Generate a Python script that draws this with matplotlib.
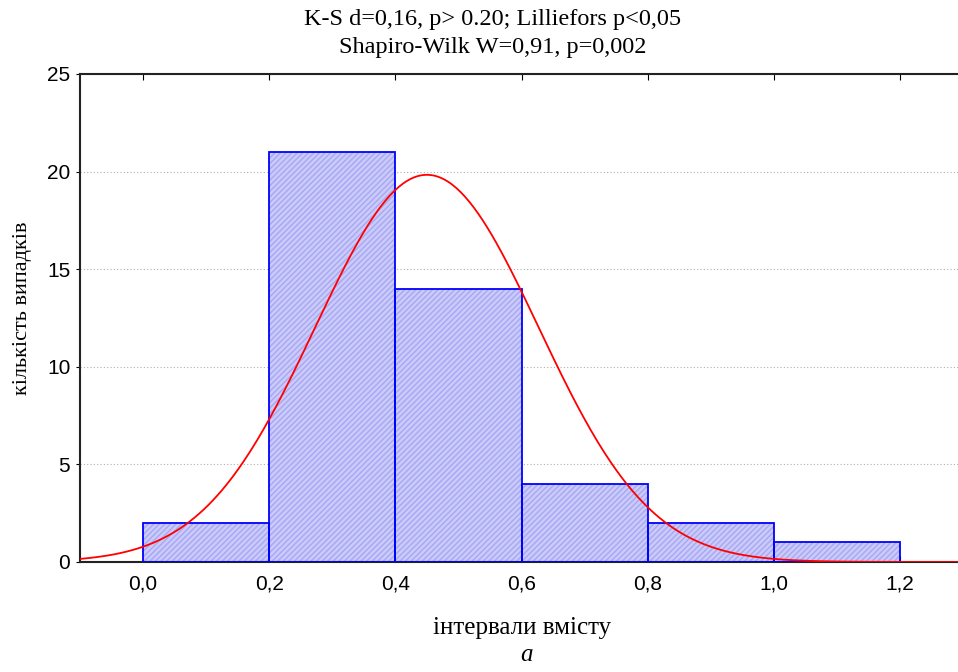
import numpy as np
import matplotlib.pyplot as plt

# histogram data
bin_left = [0.0, 0.2, 0.4, 0.6, 0.8, 1.0]
counts = [2, 21, 14, 4, 2, 1]
bin_width = 0.2

# fitted normal curve parameters
mu = 0.45
sigma = 0.177
n_total = sum(counts)

title_1 = 'K-S d=0,16, p> 0.20; Lilliefors p<0,05'
title_2 = 'Shapiro-Wilk W=0,91, p=0,002'
xticks = [0.0, 0.2, 0.4, 0.6, 0.8, 1.0, 1.2]
xtick_labels = ['0,0', '0,2', '0,4', '0,6', '0,8', '1,0', '1,2']
yticks = [0, 5, 10, 15, 20, 25]

fig = plt.figure(figsize=(9.58, 6.72), dpi=100)
ax = fig.add_axes([0.0835, 0.1637, 1 - 0.0835, 0.7262])

# hatched fill first, then the blue outline on top
ax.bar(bin_left, counts, width=bin_width, align='edge', facecolor='#cacafb',
       edgecolor='#a8a8f2', hatch='//////', linewidth=0, zorder=2)
ax.bar(bin_left, counts, width=bin_width, align='edge', facecolor='none',
       edgecolor='#0000ff', linewidth=1.3, zorder=3)

xs = np.linspace(-0.1, 1.3, 400)
ys = n_total * bin_width / (sigma * np.sqrt(2 * np.pi)) * np.exp(-(xs - mu) ** 2 / (2 * sigma ** 2))
ax.plot(xs, ys, color='#ff0000', linewidth=1.3, zorder=4)

ax.set_xlim(-0.1, 1.292)
ax.set_ylim(0, 25)
ax.set_xticks(xticks)
ax.set_xticklabels(xtick_labels, family='Liberation Sans', fontsize=15)
ax.set_yticks(yticks)
ax.set_yticklabels([str(v) for v in yticks], family='Liberation Sans', fontsize=15)
ax.tick_params(axis='x', direction='in', length=4, top=True, pad=9)
ax.tick_params(axis='y', direction='out', length=3, pad=4)

ax.yaxis.grid(True, linestyle=(0, (1, 2)), color='#b0b0b0', linewidth=0.8, zorder=0)
ax.set_axisbelow(True)

for s in ['left', 'top', 'bottom']:
    ax.spines[s].set_linewidth(1.5)
    ax.spines[s].set_color('#222222')
ax.spines['right'].set_visible(False)

fig.text(0.514, 0.9628, title_1, ha='center', va='baseline', family='Liberation Serif',
         fontsize=17.5)
fig.text(0.514, 0.9211, title_2, ha='center', va='baseline', family='Liberation Serif',
         fontsize=17.5)
fig.text(0.545, 0.0655, 'інтервали вмісту', ha='center', va='center',
         family='Liberation Serif', fontsize=18)
fig.text(0.55, 0.026, 'a', ha='center', va='center', family='Liberation Serif',
         style='italic', fontsize=18)
fig.text(0.023, 0.542, 'кількість випадків', ha='center', va='center', rotation=90,
         family='Liberation Serif', fontsize=16)

fig.savefig('out.png', dpi=100)
